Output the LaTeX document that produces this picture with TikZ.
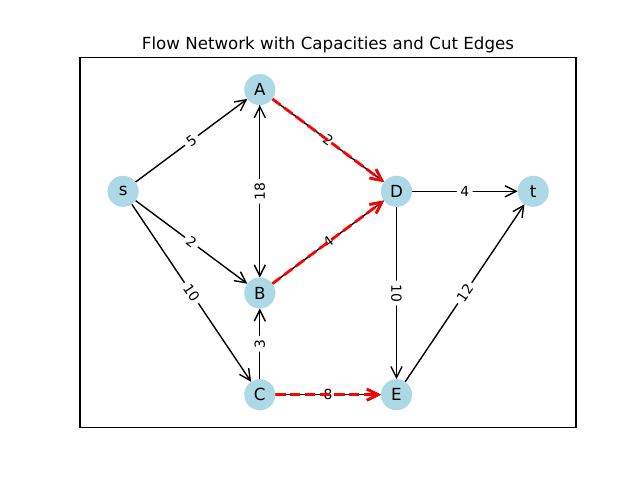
\documentclass[tikz,border=0pt]{standalone}
\usepackage{fontspec}
\setmainfont{DejaVu Sans}
\usetikzlibrary{arrows.meta,calc}
\definecolor{lightblue}{RGB}{173,216,230}
\definecolor{cutred}{RGB}{255,0,0}
\begin{document}
\begin{tikzpicture}[x=0.72pt,y=-0.72pt,
  vertex/.style={circle,fill=lightblue,minimum size=22.4pt,inner sep=0pt,outer sep=0pt,font=\fontsize{12}{14}\selectfont},
  edge/.style={line width=1pt,black,-{Straight Barb[length=8pt,width=8pt,line width=1pt]}},
  cutedge/.style={line width=2pt,cutred,dash pattern=on 7.4pt off 3.2pt,-{Straight Barb[length=8pt,width=8pt,line width=2pt]}},
  elabel/.style={fill=white,rounded corners=2pt,inner sep=2.5pt,font=\fontsize{10}{12}\selectfont},
  titletext/.style={font=\fontsize{12}{14}\selectfont,anchor=base}]
\useasboundingbox (0,0) rectangle (640,480);
\draw[line width=0.8pt] (80,57.6) rectangle (576,427.2);
\node[titletext] (title) at (328,49.3) {Flow Network with Capacities and Cut Edges};
% node coordinates
\coordinate (ps) at (123.1,191.3);
\coordinate (pA) at (259.8,89.6);
\coordinate (pD) at (396.5,191.3);
\coordinate (pt) at (533.2,191.3);
\coordinate (pB) at (259.8,293.0);
\coordinate (pC) at (259.8,394.7);
\coordinate (pE) at (396.5,394.7);
% phantom nodes for edge routing
\begin{scope}
\node[vertex,fill=none] (s) at (ps) {};
\node[vertex,fill=none] (A) at (pA) {};
\node[vertex,fill=none] (D) at (pD) {};
\node[vertex,fill=none] (t) at (pt) {};
\node[vertex,fill=none] (B) at (pB) {};
\node[vertex,fill=none] (C) at (pC) {};
\node[vertex,fill=none] (E) at (pE) {};
\end{scope}
% black edges
\draw[edge] (s) -- (A);
\draw[edge] (s) -- (B);
\draw[edge] (s) -- (C);
\draw[edge] (A) -- (D);
\draw[edge] (A) -- (B);
\draw[edge] (B) -- (A);
\draw[edge] (B) -- (D);
\draw[edge] (C) -- (B);
\draw[edge] (C) -- (E);
\draw[edge] (D) -- (t);
\draw[edge] (D) -- (E);
\draw[edge] (E) -- (t);
% labels
\node[elabel,rotate=36.65] (l1) at ($(ps)!0.5!(pA)$) {5};
\node[elabel,rotate=-36.65] (l2) at ($(ps)!0.5!(pB)$) {2};
\node[elabel,rotate=-56.1] (l3) at ($(ps)!0.5!(pC)$) {10};
\node[elabel,rotate=-36.65] (l4) at ($(pA)!0.5!(pD)$) {2};
\node[elabel,rotate=90] (l5) at ($(pA)!0.5!(pB)$) {18};
\node[elabel,rotate=36.65] (l6) at ($(pB)!0.5!(pD)$) {4};
\node[elabel,rotate=90] (l7) at ($(pC)!0.5!(pB)$) {3};
\node[elabel] (l8) at ($(pC)!0.5!(pE)$) {8};
\node[elabel] (l9) at ($(pD)!0.5!(pt)$) {4};
\node[elabel,rotate=-90] (l10) at ($(pD)!0.5!(pE)$) {10};
\node[elabel,rotate=56.1] (l11) at ($(pE)!0.5!(pt)$) {12};
% cut edges
\draw[cutedge] (A) -- (D);
\draw[cutedge] (B) -- (D);
\draw[cutedge] (C) -- (E);
% nodes
\node[vertex] (ns) at (ps) {s};
\node[vertex] (nA) at (pA) {A};
\node[vertex] (nD) at (pD) {D};
\node[vertex] (nt) at (pt) {t};
\node[vertex] (nB) at (pB) {B};
\node[vertex] (nC) at (pC) {C};
\node[vertex] (nE) at (pE) {E};
\end{tikzpicture}
\end{document}
